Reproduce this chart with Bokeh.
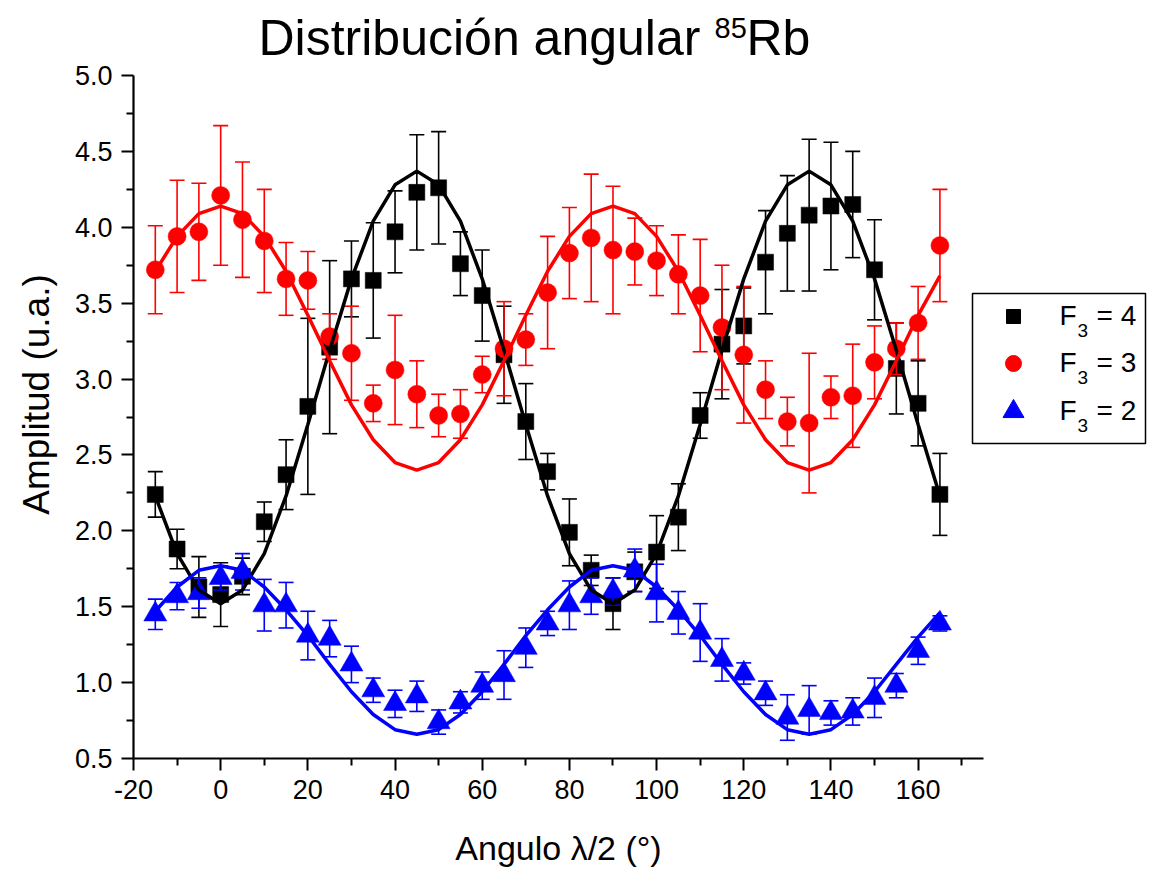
from math import pi
from bokeh.plotting import figure
from bokeh.models import Range1d, FixedTicker, PrintfTickFormatter
from bokeh.core.properties import value
from bokeh.embed import file_html
from bokeh.resources import INLINE

# ---------------- data ----------------
angle = [-15, -10, -5, 0, 5, 10, 15, 20, 25, 30, 35, 40, 45, 50, 55, 60, 65, 70, 75,
         80, 85, 90, 95, 100, 105, 110, 115, 120, 125, 130, 135, 140, 145, 150, 155, 160, 165]

f4 = [2.24, 1.88, 1.63, 1.58, 1.70, 2.06, 2.37, 2.82, 3.21, 3.66, 3.65, 3.97, 4.23, 4.26, 3.76, 3.55, 3.16, 2.72, 2.39,
      1.99, 1.74, 1.52, 1.73, 1.86, 2.09, 2.76, 3.23, 3.35, 3.77, 3.96, 4.08, 4.14, 4.15, 3.72, 3.07, 2.84, 2.24]
f4_err = [0.15, 0.13, 0.20, 0.21, 0.12, 0.13, 0.23, 0.58, 0.57, 0.25, 0.38, 0.27, 0.38, 0.37, 0.21, 0.30, 0.32, 0.25, 0.12,
          0.22, 0.10, 0.17, 0.13, 0.24, 0.22, 0.15, 0.36, 0.25, 0.34, 0.38, 0.50, 0.42, 0.35, 0.33, 0.30, 0.28, 0.27]
f4_fit = [2.23, 1.85, 1.61, 1.52, 1.61, 1.85, 2.23, 2.70, 3.19, 3.66, 4.04, 4.28, 4.37, 4.28, 4.04, 3.66, 3.19, 2.70, 2.23,
          1.85, 1.61, 1.52, 1.61, 1.85, 2.23, 2.70, 3.19, 3.66, 4.04, 4.28, 4.37, 4.28, 4.04, 3.66, 3.19, 2.70, 2.23]

f3 = [3.72, 3.94, 3.97, 4.21, 4.05, 3.91, 3.66, 3.65, 3.28, 3.17, 2.84, 3.06, 2.90, 2.76, 2.77, 3.03, 3.20, 3.26, 3.57,
      3.83, 3.93, 3.85, 3.84, 3.78, 3.69, 3.55, 3.34, 3.16, 2.93, 2.72, 2.71, 2.88, 2.89, 3.11, 3.20, 3.37, 3.88]
f3_err = [0.29, 0.37, 0.32, 0.46, 0.38, 0.34, 0.24, 0.19, 0.15, 0.31, 0.12, 0.36, 0.22, 0.14, 0.16, 0.12, 0.31, 0.17, 0.37,
          0.30, 0.42, 0.42, 0.22, 0.23, 0.26, 0.37, 0.41, 0.45, 0.19, 0.16, 0.46, 0.14, 0.34, 0.24, 0.17, 0.24, 0.37]
f3_fit = [3.71, 3.94, 4.09, 4.14, 4.09, 3.94, 3.71, 3.42, 3.12, 2.83, 2.60, 2.45, 2.40, 2.45, 2.60, 2.83, 3.12, 3.42, 3.71,
          3.94, 4.09, 4.14, 4.09, 3.94, 3.71, 3.42, 3.12, 2.83, 2.60, 2.45, 2.40, 2.45, 2.60, 2.83, 3.12, 3.42, 3.68]

f2 = [1.45, 1.57, 1.59, 1.69, 1.73, 1.51, 1.51, 1.31, 1.29, 1.12, 0.95, 0.86, 0.91, 0.74, 0.87, 0.98, 1.05, 1.23, 1.39,
      1.51, 1.57, 1.60, 1.74, 1.59, 1.46, 1.33, 1.15, 1.06, 0.93, 0.77, 0.82, 0.80, 0.81, 0.90, 0.98, 1.21, 1.39]
f2_err = [0.10, 0.09, 0.10, 0.08, 0.12, 0.17, 0.15, 0.16, 0.12, 0.12, 0.08, 0.09, 0.10, 0.08, 0.07, 0.09, 0.16, 0.13, 0.08,
          0.16, 0.12, 0.09, 0.14, 0.19, 0.14, 0.19, 0.14, 0.07, 0.08, 0.15, 0.16, 0.08, 0.09, 0.13, 0.08, 0.09, 0.05]
f2_fit = [1.47, 1.63, 1.74, 1.77, 1.74, 1.63, 1.48, 1.31, 1.12, 0.94, 0.79, 0.69, 0.66, 0.69, 0.79, 0.94, 1.12, 1.31, 1.48,
          1.63, 1.74, 1.77, 1.74, 1.63, 1.48, 1.31, 1.12, 0.94, 0.79, 0.69, 0.66, 0.69, 0.79, 0.94, 1.12, 1.30, 1.46]

x_major = [-20, 0, 20, 40, 60, 80, 100, 120, 140, 160]
x_minor = [-10, 10, 30, 50, 70, 90, 110, 130, 150, 170]
y_major = [0.5, 1.0, 1.5, 2.0, 2.5, 3.0, 3.5, 4.0, 4.5, 5.0]
y_minor = [0.75, 1.25, 1.75, 2.25, 2.75, 3.25, 3.75, 4.25, 4.75]
x_axis_min, x_axis_max = -20, 175
y_axis_min, y_axis_max = 0.5, 5.0

title_main = "Distribución angular "
title_sup = "85"
title_end = "Rb"
x_label = "Angulo λ/2 (°)"
y_label = "Amplitud (u.a.)"
legend_names = ["= 4", "= 3", "= 2"]

# ---------------- layout: the frame is the whole canvas ----------------
W, H = 1154, 871
AX_L, AX_R = 133, 983        # pixels of x_axis_min / x_axis_max
AX_B, AX_T = 758, 75         # pixels of y_axis_min / y_axis_max
FONT = "Liberation Sans"

sx = (AX_R - AX_L) / (x_axis_max - x_axis_min)
sy = (AX_B - AX_T) / (y_axis_max - y_axis_min)
X0 = x_axis_min - AX_L / sx
X1 = x_axis_max + (W - AX_R) / sx
Y0 = y_axis_min - (H - AX_B) / sy
Y1 = y_axis_max + AX_T / sy


def px2x(px):
    return X0 + px / sx


def px2y(py):
    return Y0 + (H - py) / sy


p = figure(width=W, height=H, x_range=Range1d(X0, X1), y_range=Range1d(Y0, Y1),
           output_backend="svg", toolbar_location=None, min_border=0)
p.title.visible = False
p.outline_line_color = None
p.xgrid.visible = False
p.ygrid.visible = False
p.background_fill_color = "white"
p.border_fill_color = "white"

p.xaxis[0].fixed_location = y_axis_min
p.yaxis[0].fixed_location = x_axis_min
for ax, ticks, minors, fmt in ((p.xaxis[0], x_major, x_minor, "%d"), (p.yaxis[0], y_major, y_minor, "%.1f")):
    ax.ticker = FixedTicker(ticks=ticks, minor_ticks=minors)
    ax.formatter = PrintfTickFormatter(format=fmt)
    ax.axis_line_color = None
    ax.major_tick_line_width = 2
    ax.minor_tick_line_width = 2
    ax.major_tick_line_color = "black"
    ax.minor_tick_line_color = "black"
    ax.major_tick_in = 0
    ax.minor_tick_in = 0
    ax.major_tick_out = 12
    ax.minor_tick_out = 7
    ax.major_label_text_font = FONT
    ax.major_label_text_font_size = "27px"
    ax.major_label_text_color = "black"
    ax.major_label_standoff = 9

# axis lines, only over the axis extent
p.segment(x0=[x_axis_min, x_axis_min], y0=[y_axis_min, y_axis_min],
          x1=[x_axis_min, x_axis_max], y1=[y_axis_max, y_axis_min], line_color="black", line_width=2.2)


def data_series(y, err, color, marker, size):
    lo = [a - b for a, b in zip(y, err)]
    hi = [a + b for a, b in zip(y, err)]
    p.segment(angle, lo, angle, hi, line_color=color, line_width=1.6)
    p.scatter(angle, lo, marker="dash", size=15, line_color=color, line_width=1.6)
    p.scatter(angle, hi, marker="dash", size=15, line_color=color, line_width=1.6)
    p.scatter(angle, y, marker=marker, size=size, fill_color=color, line_color=color, line_width=0.5)


data_series(f4, f4_err, "black", "square", 16)
data_series(f3, f3_err, "red", "circle", 18)
data_series(f2, f2_err, "blue", "triangle", 23)

p.line(angle, f4_fit, line_color="black", line_width=3.5)
p.line(angle, f3_fit, line_color="red", line_width=3.5)
p.line(angle, f2_fit, line_color="blue", line_width=3.5)

# ---------------- legend ----------------
p.quad(left=[px2x(972)], right=[px2x(1145)], top=[px2y(293)], bottom=[px2y(443)],
       fill_color="white", line_color="black", line_width=1.5)
leg_colors = ["black", "red", "blue"]
leg_markers = ["square", "circle", "triangle"]
leg_sizes = [14, 16, 21]
leg_my = [316, 363, 411]
p.scatter([px2x(1013)] * 3, [px2y(v) for v in leg_my], marker=leg_markers, size=leg_sizes,
          fill_color=leg_colors, line_color=leg_colors)
base = [v - 1 for v in leg_my]
p.text(x=[px2x(1059)] * 3, y=[px2y(v) for v in base], text=["F"] * 3,
       text_font=value(FONT), text_font_size=value("28px"), text_color="black", text_baseline="alphabetic")
p.text(x=[px2x(1077)] * 3, y=[px2y(v + 15) for v in base], text=["3"] * 3,
       text_font=value(FONT), text_font_size=value("19px"), text_color="black", text_baseline="alphabetic")
p.text(x=[px2x(1096)] * 3, y=[px2y(v) for v in base], text=legend_names,
       text_font=value(FONT), text_font_size=value("28px"), text_color="black", text_baseline="alphabetic")

# ---------------- title and axis titles ----------------
p.text(x=[px2x(258)], y=[px2y(37)], text=[title_main], text_font=value(FONT), text_font_size=value("50px"),
       text_color="black", text_baseline="alphabetic")
p.text(x=[px2x(714)], y=[px2y(27)], text=[title_sup], text_font=value(FONT), text_font_size=value("29px"),
       text_color="black", text_baseline="alphabetic")
p.text(x=[px2x(746)], y=[px2y(37)], text=[title_end], text_font=value(FONT), text_font_size=value("50px"),
       text_color="black", text_baseline="alphabetic")
p.text(x=[px2x(558)], y=[px2y(847)], text=[x_label], text_font=value(FONT), text_font_size=value("34px"),
       text_color="black", text_align="center", text_baseline="alphabetic")
p.text(x=[px2x(36)], y=[px2y(394)], text=[y_label], text_font=value(FONT), text_font_size=value("37px"),
       text_color="black", text_align="center", text_baseline="middle", angle=pi / 2)

open("out.html", "w").write(file_html(p, INLINE))
